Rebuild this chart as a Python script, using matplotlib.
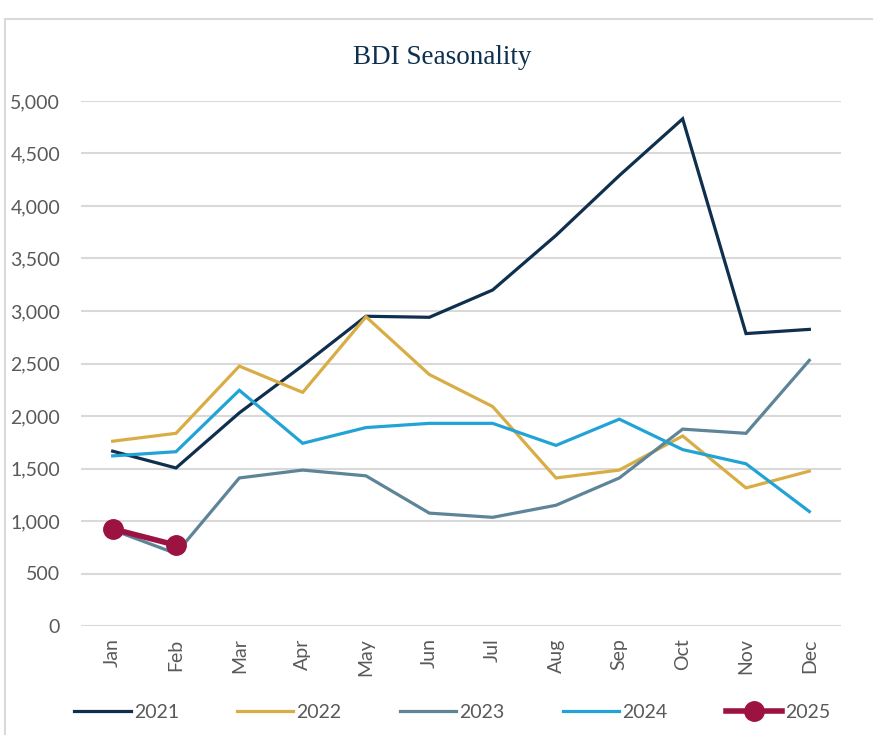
import matplotlib
matplotlib.use("Agg")
import matplotlib.pyplot as plt
from matplotlib.patches import Rectangle
from matplotlib.ticker import FuncFormatter

months = ["Jan", "Feb", "Mar", "Apr", "May", "Jun", "Jul", "Aug", "Sep", "Oct", "Nov", "Dec"]
bdi_2021 = [1665, 1505, 2030, 2480, 2950, 2940, 3200, 3720, 4290, 4830, 2785, 2825]
bdi_2022 = [1760, 1835, 2475, 2225, 2945, 2395, 2090, 1410, 1485, 1810, 1315, 1475]
bdi_2023 = [915, 690, 1410, 1485, 1430, 1075, 1035, 1150, 1410, 1875, 1835, 2530]
bdi_2024 = [1620, 1660, 2245, 1740, 1890, 1930, 1930, 1720, 1970, 1680, 1545, 1090]
bdi_2025 = [925, 770]

years = ["2021", "2022", "2023", "2024", "2025"]
colors = ["#0e2f4d", "#d9ad45", "#5e8498", "#22a3d6", "#9c1241"]
text_gray = "#595959"

fig = plt.figure(figsize=(8.73, 7.35), dpi=100)
fig.patches.append(Rectangle((5/873, -0.01), 1.0, 1 - 19/735 + 0.01, transform=fig.transFigure,
                             fill=False, edgecolor="#d9d9d9", linewidth=1.5))
ax = fig.add_axes([81/873, 1 - 626/735, 760/873, 525/735])

x = list(range(len(months)))
series = [bdi_2021, bdi_2022, bdi_2023, bdi_2024]
for vals, yr, c in zip(series, years[:4], colors[:4]):
    ax.plot(x[:len(vals)], vals, color=c, lw=2.3, label=yr, solid_joinstyle="miter")
ax.plot(x[:len(bdi_2025)], bdi_2025, color=colors[4], lw=4, marker="o", markersize=14,
        label=years[4], zorder=5)

ax.set_xlim(-0.5, 11.5)
ax.set_ylim(0, 5000)
ax.set_yticks(range(0, 5001, 500))
ax.yaxis.set_major_formatter(FuncFormatter(lambda v, p: f"{int(v):,}"))
ax.set_xticks(x)
ax.set_xticklabels(months, rotation=90)
ax.grid(axis="y", color="#d9d9d9", lw=1.5)
ax.set_axisbelow(True)
for s in ax.spines.values():
    s.set_visible(False)
ax.tick_params(axis="both", length=0, labelcolor=text_gray, labelsize=14)
ax.tick_params(axis="y", pad=15)
ax.tick_params(axis="x", pad=9)
for lab in ax.get_xticklabels() + ax.get_yticklabels():
    lab.set_fontfamily("Lato")
    lab.set_color(text_gray)

fig.text(0.507, 1 - 58/735, "BDI Seasonality", ha="center", va="center",
         fontsize=19.5, color="#0e2f4d", family="Liberation Serif")

leg = fig.legend(loc="center", bbox_to_anchor=(0.518, 1 - 712/735), ncol=5, frameon=False,
                 handlelength=2.9, columnspacing=3.0, handletextpad=0.15,
                 prop={"family": "Lato", "size": 14})
for t in leg.get_texts():
    t.set_color(text_gray)

fig.savefig("out.png", dpi=100)
